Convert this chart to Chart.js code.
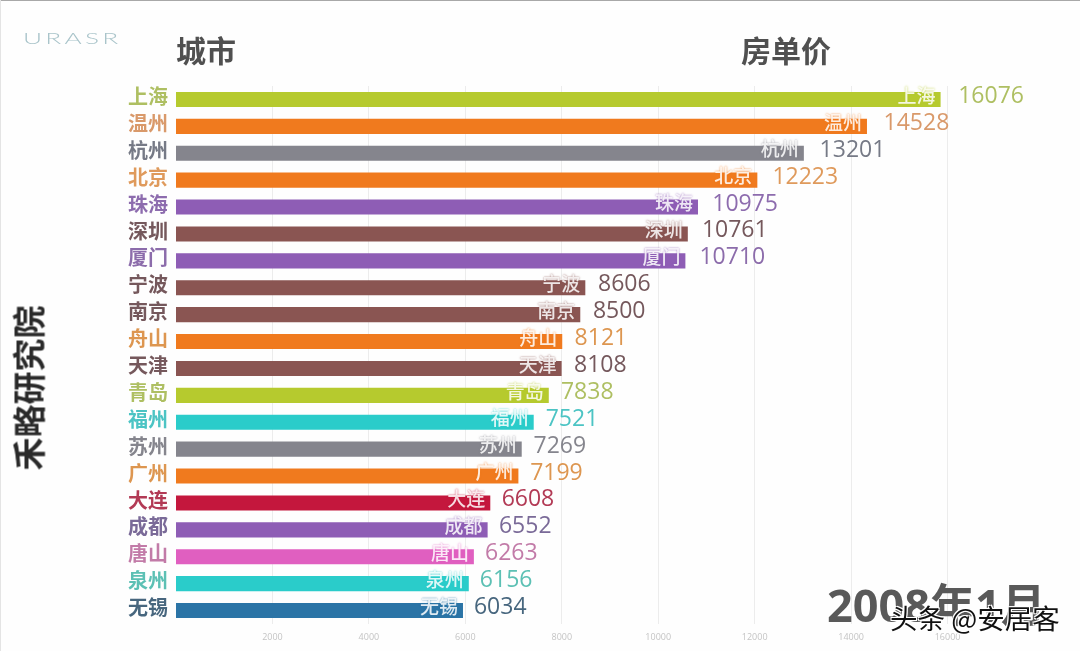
<!DOCTYPE html>
<html>
<head>
<meta charset="utf-8">
<script src="https://cdn.jsdelivr.net/npm/chart.js@4/dist/chart.umd.min.js"></script>
<style>
html, body { margin: 0; padding: 0; background: #fff; }
#page { position: relative; width: 1080px; height: 651px; overflow: hidden; background: #fefefe; font-family: "Noto Sans CJK SC", sans-serif; }
#blurred { position: absolute; left: 0; top: 0; width: 1080px; height: 651px; filter: blur(0.6px); }
#chart1 { position: absolute; left: 0; top: 0; }
.txt { position: absolute; white-space: nowrap; line-height: 1; }
#top-line { position: absolute; left: 0; top: 0; width: 1080px; height: 1px; background: #a8a8a8; }
#left-line { position: absolute; left: 0; top: 0; width: 1px; height: 651px; background: #e4e4e4; }
#logo { left: 23px; top: 28px; font: 300 16px Lato, sans-serif; color: #a9c4ca; letter-spacing: 2px; transform-origin: left top; transform: scaleX(1.64); }
.title { top: 34px; font-size: 30px; font-weight: 700; color: #505050; }
#side { left: 28px; top: 388px; font-size: 33px; font-weight: 700; color: #2a2a2a; transform: translate(-50%, -50%) rotate(-90deg); }
#date { left: 827px; top: 570px; font: 700 45px "Open Sans", "Noto Sans CJK SC", sans-serif; color: #595959; }
#mark { left: 890px; top: 604px; font-size: 27.5px; color: #111; text-shadow: 1px 1px 0 #fff, -1px -1px 0 #fff, 1px -1px 0 #fff, -1px 1px 0 #fff; }
</style>
</head>
<body>
<div id="page">
    <div id="blurred">
        <canvas id="chart1" width="1080" height="651"></canvas>
        <div id="top-line"></div>
        <div id="left-line"></div>
        <div class="txt" id="logo">URASR</div>
        <div class="txt title" style="left:176px">城市</div>
        <div class="txt title" style="left:741px">房单价</div>
        <div class="txt" id="side">禾略研究院</div>
        <div class="txt" id="date">2008年1月</div>
    </div>
    <div class="txt" id="mark">头条 @安居客</div>
</div>
<script>
//------------------------------------------- Data -------------------------------------------//
const cities = ['上海', '温州', '杭州', '北京', '珠海', '深圳', '厦门', '宁波', '南京', '舟山',
    '天津', '青岛', '福州', '苏州', '广州', '大连', '成都', '唐山', '泉州', '无锡'];
const prices = [16076, 14528, 13201, 12223, 10975, 10761, 10710, 8606, 8500, 8121,
    8108, 7838, 7521, 7269, 7199, 6608, 6552, 6263, 6156, 6034];

const green = '#b6ca2e', orange = '#f07a1e', grey = '#85858d', purple = '#8e5db5',
    brown = '#8a5552', teal = '#2accca', red = '#c4173d', pink = '#e05fc0', blue = '#2b74a6';
const barColors = [green, orange, grey, orange, purple, brown, purple, brown, brown, orange,
    brown, green, teal, grey, orange, red, purple, pink, teal, blue];

// value numbers in the picture are washed out a bit compared to the bars
const valueColors = ['#aebf62', '#d9996a', '#767a86', '#df9a5c', '#8d6cae', '#75585c', '#8c6cab',
    '#75585c', '#75585c', '#dd9650', '#75585c', '#aebf62', '#4cc4c4', '#85858d', '#dd9650',
    '#b23a55', '#7a6a98', '#c27ba8', '#5cc0b4', '#47667e'];

//------------------------------------------- Settings -------------------------------------------//
const plot_left = 176;
const plot_right = 1044;
const bar_scale_max = 18250;   // bars run a little shorter than the printed axis
const axis_scale_max = 18000;
const tick_step = 2000;

//------------------------------------------- Chart -------------------------------------------//

// City name inside the bar end, price placed on the printed axis scale
const barLabels = {
    id: 'barLabels',
    afterDatasetsDraw(chart) {
        const ctx = chart.ctx;
        const meta = chart.getDatasetMeta(0);
        const axis = chart.scales.x2;
        ctx.save();
        ctx.textBaseline = 'middle';
        meta.data.forEach((bar, i) => {
            ctx.textAlign = 'right';
            ctx.font = '500 19px "Noto Sans CJK SC"';
            ctx.fillStyle = 'rgba(255,255,255,0.85)';
            ctx.shadowColor = barColors[i];
            ctx.shadowBlur = 2;
            ctx.fillText(cities[i], bar.x - 5, bar.y - 4);
            ctx.shadowBlur = 0;

            ctx.textAlign = 'left';
            ctx.font = '500 23px "Open Sans"';
            ctx.fillStyle = valueColors[i];
            ctx.fillText(prices[i], axis.getPixelForValue(prices[i]) + 7, bar.y - 3);
        });
        ctx.restore();
    }
};

var chart1 = new Chart(document.getElementById('chart1'), {
    type: 'bar',
    data: {
        labels: cities,
        datasets: [{
            data: prices,
            backgroundColor: barColors,
            barPercentage: 0.56,
            categoryPercentage: 1
        }]
    },
    options: {
        indexAxis: 'y',
        responsive: false,
        animation: false,
        devicePixelRatio: 1,
        layout: {
            padding: { top: 86, right: 1080 - plot_right, bottom: 0, left: 0 }
        },
        plugins: {
            legend: { display: false },
            tooltip: { enabled: false }
        },
        scales: {
            y: {
                grid: { display: false },
                border: { display: false },
                afterFit: function(scale) { scale.width = plot_left; },
                ticks: {
                    padding: 0,
                    labelOffset: -3,
                    autoSkip: false,
                    color: function(c) { return valueColors[c.index]; },
                    font: { family: '"Noto Sans CJK SC"', size: 20, weight: '700' }
                }
            },
            x: {
                display: false,
                min: 0,
                max: bar_scale_max
            },
            x2: {
                axis: 'x',
                position: 'bottom',
                min: 0,
                max: axis_scale_max,
                afterFit: function(scale) { scale.height = 27; },
                border: { display: false },
                grid: {
                    drawTicks: false,
                    color: function(c) { return c.tick.value === 0 || c.tick.value > 16000 ? 'transparent' : '#ececec'; }
                },
                ticks: {
                    stepSize: tick_step,
                    autoSkip: false,
                    maxRotation: 0,
                    padding: 8,
                    color: '#c4c4c4',
                    font: { family: '"Open Sans"', size: 9 },
                    callback: function(v) { return v === 0 || v > 16000 ? '' : String(v); }
                }
            }
        }
    },
    plugins: [barLabels]
});
</script>
</body>
</html>
